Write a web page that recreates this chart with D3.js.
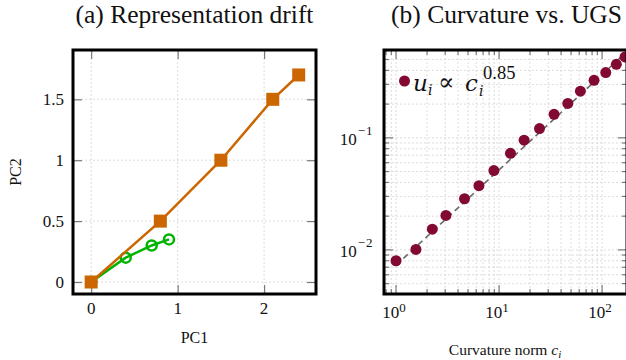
<!DOCTYPE html>
<html>
<head>
<meta charset="utf-8">
<script src="https://cdn.jsdelivr.net/npm/d3@7/dist/d3.min.js"></script>
<style>
  body { margin: 0; background: #fff; }
  text { font-family: "Liberation Serif", "DejaVu Serif", serif; fill: #111; }
  .math { font-family: "DejaVu Serif", serif; font-style: italic; }
  .grid line { stroke: #d3d3d3; stroke-width: 0.8; stroke-dasharray: 2,2; }
  .tick line { stroke: #7a7a7a; stroke-width: 1.2; }
</style>
</head>
<body>
<script>
// (a) representation drift, two trajectories in PC space
var drift_a_pc1 = [0, 0.8, 1.5, 2.1, 2.4];
var drift_a_pc2 = [0, 0.5, 1.0, 1.5, 1.7];
var drift_b_pc1 = [0, 0.4, 0.7, 0.9];
var drift_b_pc2 = [0, 0.2, 0.3, 0.35];
var pc1_ticks = [0, 1, 2];
var pc2_ticks = [0, 0.5, 1, 1.5];

// (b) curvature norm vs UGS
var curv_c = [1.0, 1.56, 2.25, 3.05, 4.62, 6.38, 8.91, 12.9, 17.5, 24.7, 34.2, 46.5, 61.6, 83.6, 108.6, 137.6, 167];
var ugs_u = [0.0080, 0.0101, 0.0153, 0.0203, 0.0286, 0.0374, 0.0510, 0.0728, 0.0952, 0.121, 0.162, 0.203, 0.261, 0.326, 0.382, 0.453, 0.527];
// dashed fit u ~ c^0.85, two end points
var fit_c = [1, 180];
var fit_u = [0.0073, 0.605];
var c_ticks = [1, 10, 100];
var c_tick_exp = ["0", "1", "2"];
var u_ticks = [0.01, 0.1];
var u_tick_exp = ["\u22122", "\u22121"];

var orange = "#cc6600", green = "#00b300", maroon = "#820a32";

var svg = d3.select("body").append("svg")
  .attr("width", 626).attr("height", 360);

// ---------- panel (a) ----------
var pa = { x0: 73, x1: 316, y0: 50, y1: 294 };
var xa = d3.scaleLinear().domain([-0.21, 2.6]).range([pa.x0, pa.x1]);
var ya = d3.scaleLinear().domain([-0.0985, 1.905]).range([pa.y1, pa.y0]);

var ga = svg.append("g");
var grid_a = ga.append("g").attr("class", "grid");
grid_a.selectAll("line.vx").data(pc1_ticks).enter().append("line")
  .attr("x1", d => xa(d)).attr("x2", d => xa(d)).attr("y1", pa.y0).attr("y2", pa.y1);
grid_a.selectAll("line.hy").data(pc2_ticks).enter().append("line")
  .attr("y1", d => ya(d)).attr("y2", d => ya(d)).attr("x1", pa.x0).attr("x2", pa.x1);

// ticks inside on all four sides
var tl = 9;
ga.append("g").attr("transform", "translate(0," + pa.y1 + ")")
  .call(d3.axisTop(xa).tickValues(pc1_ticks).tickSize(tl).tickFormat(""))
  .call(g => g.select(".domain").remove());
ga.append("g").attr("transform", "translate(0," + pa.y0 + ")")
  .call(d3.axisBottom(xa).tickValues(pc1_ticks).tickSize(tl).tickFormat(""))
  .call(g => g.select(".domain").remove());
ga.append("g").attr("transform", "translate(" + pa.x0 + ",0)")
  .call(d3.axisRight(ya).tickValues(pc2_ticks).tickSize(tl).tickFormat(""))
  .call(g => g.select(".domain").remove());
ga.append("g").attr("transform", "translate(" + pa.x1 + ",0)")
  .call(d3.axisLeft(ya).tickValues(pc2_ticks).tickSize(tl).tickFormat(""))
  .call(g => g.select(".domain").remove());

ga.selectAll("text.xl").data(pc1_ticks).enter().append("text")
  .attr("x", d => xa(d)).attr("y", 314).attr("text-anchor", "middle")
  .attr("font-size", 17).text(d => d);
ga.selectAll("text.yl").data(pc2_ticks).enter().append("text")
  .attr("x", 64).attr("y", d => ya(d) + 5.5).attr("text-anchor", "end")
  .attr("font-size", 17).text(d => d);

var line_a = d3.line().x(d => xa(d[0])).y(d => ya(d[1]));
var pts_a = drift_a_pc1.map((v, i) => [v, drift_a_pc2[i]]);
var pts_b = drift_b_pc1.map((v, i) => [v, drift_b_pc2[i]]);

ga.append("path").datum(pts_b).attr("d", line_a)
  .attr("fill", "none").attr("stroke", green).attr("stroke-width", 2.5);
ga.selectAll("circle.b").data(pts_b).enter().append("circle")
  .attr("cx", d => xa(d[0])).attr("cy", d => ya(d[1])).attr("r", 5)
  .attr("fill", "none").attr("stroke", green).attr("stroke-width", 2.5);

ga.append("path").datum(pts_a).attr("d", line_a)
  .attr("fill", "none").attr("stroke", orange).attr("stroke-width", 2.5);
var sq = 13;
ga.selectAll("rect.a").data(pts_a).enter().append("rect")
  .attr("x", d => xa(d[0]) - sq / 2).attr("y", d => ya(d[1]) - sq / 2)
  .attr("width", sq).attr("height", sq).attr("fill", orange);

ga.append("rect").attr("x", pa.x0).attr("y", pa.y0)
  .attr("width", pa.x1 - pa.x0).attr("height", pa.y1 - pa.y0)
  .attr("fill", "none").attr("stroke", "#000").attr("stroke-width", 3);

ga.append("text").attr("x", (pa.x0 + pa.x1) / 2).attr("y", 23)
  .attr("text-anchor", "middle").attr("font-size", 25.5).text("(a) Representation drift");
ga.append("text").attr("x", (pa.x0 + pa.x1) / 2).attr("y", 343)
  .attr("text-anchor", "middle").attr("font-size", 16).text("PC1");
ga.append("text").attr("transform", "translate(20.5," + ((pa.y0 + pa.y1) / 2) + ") rotate(-90)")
  .attr("text-anchor", "middle").attr("font-size", 16).text("PC2");

// ---------- panel (b) ----------
var pb = { x0: 384, x1: 627, y0: 50, y1: 294 };
var xb = d3.scaleLog().domain([0.764, 174.6]).range([pb.x0, pb.x1]);
var yb = d3.scaleLog().domain([0.00404, 0.608]).range([pb.y1, pb.y0]);

var gb = svg.append("g");
svg.append("clipPath").attr("id", "clipb").append("rect")
  .attr("x", pb.x0).attr("y", pb.y0).attr("width", pb.x1 - pb.x0).attr("height", pb.y1 - pb.y0);

// all decade steps (major + minor) inside the domain
function logSteps(dom) {
  var out = [];
  var lo = Math.floor(Math.log10(dom[0])), hi = Math.ceil(Math.log10(dom[1]));
  for (var e = lo; e <= hi; e++)
    for (var m = 1; m < 10; m++) {
      var v = m * Math.pow(10, e);
      if (v >= dom[0] && v <= dom[1]) out.push(v);
    }
  return out;
}
var xb_all = logSteps(xb.domain());
var yb_all = logSteps(yb.domain());
var isMajor = v => Math.abs(Math.log10(v) - Math.round(Math.log10(v))) < 1e-9;

var grid_b = gb.append("g").attr("class", "grid");
grid_b.selectAll("line.vx").data(xb_all).enter().append("line")
  .attr("x1", d => xb(d)).attr("x2", d => xb(d)).attr("y1", pb.y0).attr("y2", pb.y1);
grid_b.selectAll("line.hy").data(yb_all).enter().append("line")
  .attr("y1", d => yb(d)).attr("y2", d => yb(d)).attr("x1", pb.x0).attr("x2", pb.x1);

var tk = gb.append("g").attr("class", "tick");
tk.selectAll("line.bx").data(xb_all).enter().append("line")
  .attr("x1", d => xb(d)).attr("x2", d => xb(d))
  .attr("y1", pb.y1).attr("y2", d => pb.y1 - (isMajor(d) ? 9 : 5));
tk.selectAll("line.tx").data(xb_all).enter().append("line")
  .attr("x1", d => xb(d)).attr("x2", d => xb(d))
  .attr("y1", pb.y0).attr("y2", d => pb.y0 + (isMajor(d) ? 9 : 5));
tk.selectAll("line.ly").data(yb_all).enter().append("line")
  .attr("y1", d => yb(d)).attr("y2", d => yb(d))
  .attr("x1", pb.x0).attr("x2", d => pb.x0 + (isMajor(d) ? 9 : 5));
tk.selectAll("line.ry").data(yb_all).enter().append("line")
  .attr("y1", d => yb(d)).attr("y2", d => yb(d))
  .attr("x1", pb.x1).attr("x2", d => pb.x1 - (isMajor(d) ? 9 : 5));

var xt = gb.selectAll("text.xl").data(c_ticks).enter().append("text")
  .attr("x", d => xb(d) - 2).attr("y", 318).attr("text-anchor", "middle").attr("font-size", 17);
xt.append("tspan").text("10");
xt.append("tspan").attr("dy", -6).attr("font-size", 13).text((d, i) => c_tick_exp[i]);

var yt = gb.selectAll("text.yl").data(u_ticks).enter().append("text")
  .attr("x", 373.5).attr("y", d => yb(d) + 7.5).attr("text-anchor", "end").attr("font-size", 17);
yt.append("tspan").text("10");
yt.append("tspan").attr("dy", -10).attr("dx", 1).attr("font-size", 13).attr("letter-spacing", 1).text((d, i) => u_tick_exp[i]);

var plot_b = gb.append("g").attr("clip-path", "url(#clipb)");
plot_b.append("path")
  .datum(fit_c.map((v, i) => [v, fit_u[i]]))
  .attr("d", d3.line().x(d => xb(d[0])).y(d => yb(d[1])))
  .attr("fill", "none").attr("stroke", "#6a6a6a").attr("stroke-width", 1.6)
  .attr("stroke-dasharray", "6,4");
plot_b.selectAll("circle.u").data(curv_c).enter().append("circle")
  .attr("cx", d => xb(d)).attr("cy", (d, i) => yb(ugs_u[i])).attr("r", 5.5)
  .attr("fill", maroon);

gb.append("rect").attr("x", pb.x0).attr("y", pb.y0)
  .attr("width", pb.x1 - pb.x0).attr("height", pb.y1 - pb.y0)
  .attr("fill", "none").attr("stroke", "#000").attr("stroke-width", 3);

// legend, math set piece by piece
gb.append("circle").attr("cx", 404.5).attr("cy", 81).attr("r", 5.5).attr("fill", maroon);
var lg = gb.append("g");
lg.append("text").attr("class", "math").attr("x", 413).attr("y", 91).attr("font-size", 23).text("u");
lg.append("text").attr("class", "math").attr("x", 428).attr("y", 95).attr("font-size", 14).text("i");
lg.append("text").attr("x", 438).attr("y", 90).attr("font-size", 24)
  .style("font-family", "'DejaVu Serif'").text("\u221d");
lg.append("text").attr("class", "math").attr("x", 465).attr("y", 91).attr("font-size", 23).text("c");
lg.append("text").attr("class", "math").attr("x", 479).attr("y", 96).attr("font-size", 14).text("i");
lg.append("text").attr("x", 483).attr("y", 79).attr("font-size", 18.5).text("0.85");

gb.append("text").attr("x", (pb.x0 + pb.x1) / 2 + 1).attr("y", 23)
  .attr("text-anchor", "middle").attr("font-size", 25.5).text("(b) Curvature vs. UGS");
var xlab = gb.append("text").attr("x", 505).attr("y", 355)
  .attr("text-anchor", "middle").attr("font-size", 15.5);
xlab.append("tspan").text("Curvature norm ");
xlab.append("tspan").attr("font-style", "italic").text("c");
xlab.append("tspan").attr("font-style", "italic").attr("font-size", 11).attr("dy", 3).text("i");
</script>
</body>
</html>
